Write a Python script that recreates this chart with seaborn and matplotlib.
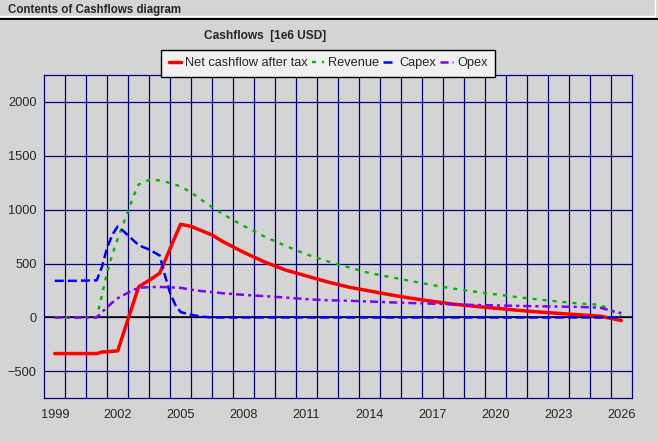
import matplotlib.pyplot as plt
import seaborn as sns
from matplotlib.lines import Line2D

# data (1e6 USD)
years = [1999, 2000, 2001, 2001.25, 2001.5, 2001.75, 2002, 2002.25, 2002.5, 2002.75,
         2003, 2003.5, 2004, 2004.25, 2004.5, 2004.75, 2005, 2005.5, 2006, 2006.5,
         2007, 2008, 2009, 2010, 2011, 2012, 2013, 2014, 2015, 2016,
         2017, 2018, 2019, 2020, 2021, 2022, 2023, 2024, 2025, 2026]
net_cashflow = [-335, -335, -335, -320, -318, -314, -310, -160, -12, 137,
                285, 345, 410, 525, 640, 755, 865, 845, 805, 765,
                705, 605, 515, 440, 385, 330, 282, 246, 210, 178,
                150, 124, 104, 86, 68, 52, 38, 25, 12, -28]
revenue = [0, 0, 0, 210, 420, 590, 730, 860, 990, 1125,
           1235, 1278, 1272, 1262, 1245, 1232, 1215, 1160, 1090, 1025,
           960, 850, 750, 665, 585, 522, 465, 412, 375, 338,
           300, 268, 240, 215, 190, 168, 148, 130, 118, 12]
capex = [340, 340, 345, 470, 650, 770, 845, 805, 760, 715,
         670, 630, 575, 390, 225, 115, 50, 25, 8, 0,
         0, 0, 0, 0, 0, 0, 0, 0, 0, 0,
         0, 0, 0, 0, 0, 0, 0, 0, 0, 0]
opex = [0, 0, 0, 50, 95, 140, 178, 205, 230, 255,
        275, 282, 283, 282, 280, 278, 275, 258, 245, 235,
        225, 210, 198, 185, 170, 160, 155, 148, 140, 134,
        128, 122, 116, 112, 108, 104, 101, 98, 90, 40]

series_names = ["Net cashflow after tax", "Revenue", "Capex", "Opex"]
year_ticks = [1999, 2002, 2005, 2008, 2011, 2014, 2017, 2020, 2023, 2026]
value_ticks = [-500, 0, 500, 1000, 1500, 2000]

BG = "#D4D4D4"
NAVY = "#000080"
styles = {
    "Net cashflow after tax": dict(color="#FF0000", lw=2.5, dashes=()),
    "Revenue": dict(color="#00B800", lw=1.7, dashes=(2.9, 4.3)),
    "Capex": dict(color="#0000FF", lw=1.8, dashes=(6.5, 2.9)),
    "Opex": dict(color="#7F00FF", lw=1.8, dashes=(5.8, 2.9, 2.2, 2.9)),
}

sns.set_style("white", rc={"axes.facecolor": BG, "figure.facecolor": BG})
plt.rcParams["font.family"] = ["Liberation Sans", "DejaVu Sans"]
plt.rcParams["lines.scale_dashes"] = False

W, H = 658, 442
fig = plt.figure(figsize=(W / 100, H / 100), dpi=100)
ax = fig.add_axes([44.3 / W, 1 - 398.3 / H, (631.7 - 44.3) / W, (398.3 - 75) / H])

handles = []
for name, vals in zip(series_names, [net_cashflow, revenue, capex, opex]):
    st = styles[name]
    sns.lineplot(x=years, y=vals, ax=ax, color=st["color"], linewidth=st["lw"],
                 dashes=st["dashes"], label=name, legend=False, zorder=3)
    handles.append(ax.lines[-1])

ax.axhline(0, color="black", lw=1.1, zorder=2)

ax.set_xlim(1998.5, 2026.5)
ax.set_ylim(-750, 2250)
ax.set_xticks(year_ticks)
ax.set_xticks([y + 0.5 for y in range(1999, 2026)], minor=True)
ax.set_yticks(value_ticks)
ax.set_axisbelow(True)
ax.grid(False)
ax.grid(which="minor", axis="x", color=NAVY, lw=0.9)
ax.grid(which="major", axis="y", color=NAVY, lw=0.9)
ax.tick_params(axis="x", which="both", length=0, pad=7.5, labelsize=9.2)
ax.tick_params(axis="y", length=4.5, width=0.9, color="black", pad=1, labelsize=9.2)
for sp in ax.spines.values():
    sp.set_color(NAVY)
    sp.set_linewidth(0.9)

# window style header
fig.text(8 / W, 1 - 9.5 / H, "Contents of Cashflows diagram", fontsize=8.3,
         fontweight="bold", ha="left", va="center")
fig.add_artist(Line2D([0, 655 / W], [1 - 16 / H] * 2, color="white", lw=1.0))
fig.add_artist(Line2D([655 / W] * 2, [1 - 16 / H, 1], color="white", lw=1.0))
fig.add_artist(Line2D([0, 1], [1 - 19 / H] * 2, color="black", lw=1.4))

fig.text(265 / W, 1 - 36 / H, "Cashflows  [1e6 USD]", fontsize=8.6,
         fontweight="bold", ha="center", va="center")

leg = fig.legend(handles, series_names, loc="center", bbox_to_anchor=(328 / W, 1 - 63.5 / H),
                 ncol=4, fontsize=9.2, handlelength=1.0, handletextpad=0.3,
                 columnspacing=0.3, borderpad=0.6, fancybox=False, framealpha=1,
                 edgecolor="black", facecolor="#F0F0F0")
leg.get_frame().set_linewidth(1.0)

fig.savefig("out.png", dpi=100, facecolor=fig.get_facecolor())
